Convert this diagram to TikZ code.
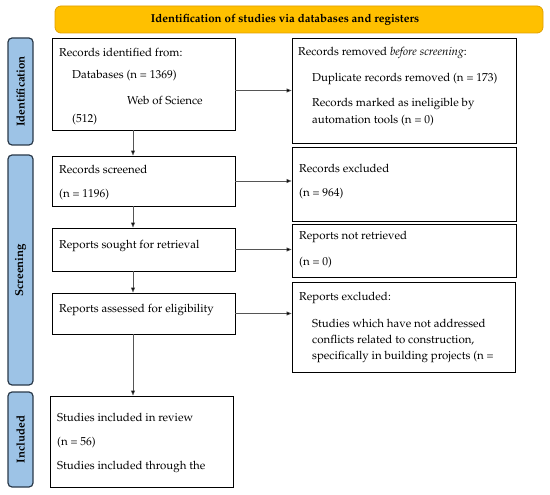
\documentclass[tikz,border=0pt]{standalone}
\usepackage[T1]{fontenc}
\usepackage{mathpazo}
\usetikzlibrary{arrows.meta}
\definecolor{gold}{HTML}{FFC000}
\definecolor{goldedge}{HTML}{E0A000}
\definecolor{sideblue}{HTML}{9DC3E6}
\definecolor{sideedge}{HTML}{2B3A4A}
\definecolor{conn}{HTML}{555555}
\begin{document}
\begin{tikzpicture}[x=1pt,y=-1pt,
  box/.style={draw=black,line width=0.9pt,inner sep=0pt,rectangle},
  side/.style={draw=sideedge,fill=sideblue,line width=1.2pt,rounded corners=4pt,inner sep=0pt,rectangle},
  lbl/.style={font=\bfseries\fontsize{11.5}{13}\selectfont,rotate=90,inner sep=0pt},
  txt/.style={anchor=west,inner sep=0pt,font=\fontsize{11.5}{13}\selectfont},
  arr/.style={draw=conn,line width=0.6pt,-{Triangle[length=5pt,width=4pt,fill=black]}}]
\useasboundingbox (0,0) rectangle (550,495);
% banner
\node[draw=goldedge,fill=gold,line width=0.8pt,rounded corners=6pt,minimum width=488pt,minimum height=27pt,inner sep=0pt] (ban) at (299,19.5) {};
\node[inner sep=0pt,font=\bfseries\fontsize{11.5}{13}\selectfont] (bant) at (285,19.5) {Identification of studies via databases and registers};
% side bars
\node[side,minimum width=25pt,minimum height=107pt] (sid) at (20.5,91.5) {};
\node[lbl] at (sid.center) {Identification};
\node[side,minimum width=25pt,minimum height=230pt] (ssc) at (20.5,270) {};
\node[lbl] at (ssc.center) {Screening};
\node[side,minimum width=25pt,minimum height=95pt] (sin) at (20.5,439.5) {};
\node[lbl] at (sin.center) {Included};
% boxes
\node[box,minimum width=183pt,minimum height=92pt] (rid) at (143.5,84) {};
\node[box,minimum width=224pt,minimum height=105pt] (rrm) at (404,90.5) {};
\node[box,minimum width=183pt,minimum height=50pt] (scr) at (143.5,181) {};
\node[box,minimum width=224pt,minimum height=74pt] (exc) at (404,184) {};
\node[box,minimum width=183pt,minimum height=43pt] (sgt) at (143.5,249.5) {};
\node[box,minimum width=224pt,minimum height=53pt] (nrt) at (404,250.5) {};
\node[box,minimum width=183pt,minimum height=41pt] (asd) at (143.5,313.5) {};
\node[box,minimum width=223pt,minimum height=90pt] (rex) at (403.5,327) {};
\node[box,minimum width=183pt,minimum height=91pt] (inc) at (141.5,441.5) {};
% texts
\node[txt] at (59,52) {Records identified from:};
\node[txt] at (72,76) {Databases (n = 1369)};
\node[txt] at (127,100) {Web of Science};
\node[txt] at (72,120) {(512)};
\node[txt] at (298,53) {Records removed \textit{before screening}:};
\node[txt] at (312,79) {Duplicate records removed (n = 173)};
\node[txt] at (312,104) {Records marked as ineligible by};
\node[txt] at (312,121) {automation tools (n = 0)};
\node[txt] at (59,169) {Records screened};
\node[txt] at (59,195) {(n = 1196)};
\node[txt] at (299,168) {Records excluded};
\node[txt] at (299,194) {(n = 964)};
\node[txt] at (59,246) {Reports sought for retrieval};
\node[txt] at (299,237) {Reports not retrieved};
\node[txt] at (299,263) {(n = 0)};
\node[txt] at (59,310) {Reports assessed for eligibility};
\node[txt] at (299,298) {Reports excluded:};
\node[txt] at (312,323) {Studies which have not addressed};
\node[txt] at (312,340) {conflicts related to construction,};
\node[txt] at (312,357) {specifically in building projects (n =};
\node[txt] at (57,417) {Studies included in review};
\node[txt] at (57,443) {(n = 56)};
\node[txt] at (57,467) {Studies included through the};
% connectors
\draw[arr] (rid.east |- rrm.west) -- (rrm.west);
\draw[arr] (scr.east) -- (scr.east -| exc.west);
\draw[arr] (sgt.east) -- (sgt.east -| nrt.west);
\draw[arr] (asd.east) -- (asd.east -| rex.west);
\draw[arr] ([xshift=-10.5pt]rid.south) -- ([xshift=-10.5pt]rid.south |- scr.north);
\draw[arr] ([xshift=-10.5pt]scr.south) -- ([xshift=-10.5pt]scr.south |- sgt.north);
\draw[arr] ([xshift=-10.5pt]sgt.south) -- ([xshift=-10.5pt]sgt.south |- asd.north);
\draw[arr] ([xshift=-10.5pt]asd.south) -- ([xshift=-10.5pt]asd.south |- inc.north);
\end{tikzpicture}
\end{document}
